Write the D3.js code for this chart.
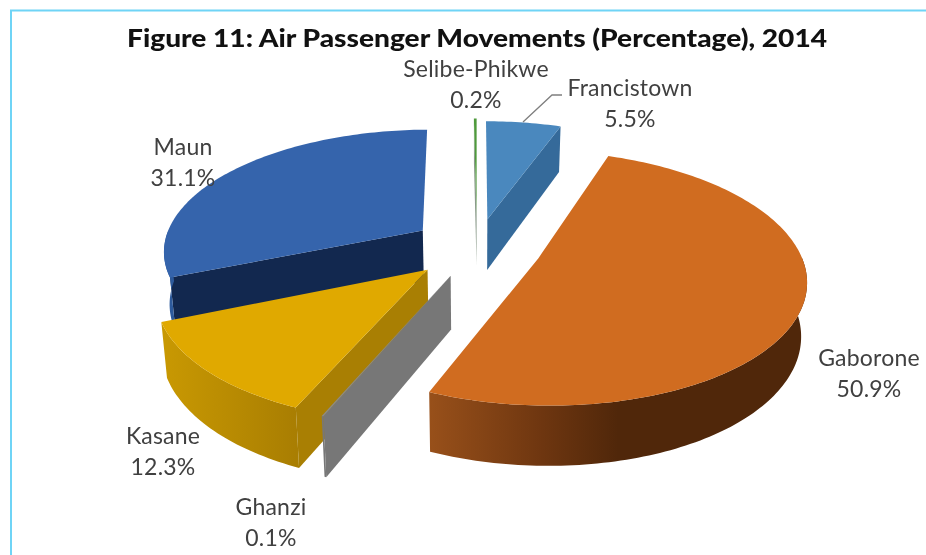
<!DOCTYPE html>
<html>
<head>
<meta charset="utf-8">
<script src="https://cdn.jsdelivr.net/npm/d3@7"></script>
<style>
  html, body { margin: 0; padding: 0; background: #fff; }
  svg { display: block; filter: blur(0.4px); }
  .lbl { font-family: Lato, "Open Sans", sans-serif; font-size: 23px; letter-spacing: 0.2px; fill: #404040; text-anchor: middle; }
  .title { font-family: Lato, sans-serif; font-weight: 900; font-size: 25px; fill: #111; }
</style>
</head>
<body>
<svg id="chart" width="926" height="555"></svg>
<script>
const titleText = "Figure 11: Air Passenger Movements (Percentage), 2014";
const categories = ["Francistown", "Gaborone", "Ghanzi", "Kasane", "Maun", "Selibe-Phikwe"];
const values = [5.5, 50.9, 0.1, 12.3, 31.1, 0.2];
const valueLabels = ["5.5%", "50.9%", "0.1%", "12.3%", "31.1%", "0.2%"];

// drawing setup, per category
const explode = { "Francistown": 0.24, "Gaborone": 0.25, "Ghanzi": 0.25, "Kasane": 0.26, "Maun": 0.255, "Selibe-Phikwe": 0.27 };
const colors = {
  "Francistown": { top: "#4a88be", cut: "#356a9a", wall: ["#35689a", "#35689a"], cuts: ["end"] },
  "Gaborone": { top: "#d06c20", cut: "#8f4c16", wall: ["#98501a", "#50270a"], cuts: [] },
  "Ghanzi": { top: "#8a8a8a", cut: "#777777", wall: ["#777777", "#777777"], cuts: ["start"] },
  "Kasane": { top: "#e0a900", cut: "#a97f03", wall: ["#c99902", "#a97e02"], cuts: ["start"] },
  "Maun": { top: "#3564ac", cut: "#12284f", wall: ["#2d5a9c", "#2d5a9c"], cuts: ["start"] },
  "Selibe-Phikwe": { top: "#4f9a3c", cut: "#8a9a8a", wall: ["#8a9a8a", "#8a9a8a"], cuts: ["start", "end"] }
};
const drawOrder = ["Maun", "Selibe-Phikwe", "Francistown", "Gaborone", "Kasane", "Ghanzi"];
const labelAt = {
  "Francistown": [630, 96], "Gaborone": [869, 366], "Ghanzi": [271, 515],
  "Kasane": [163, 444], "Maun": [183, 155], "Selibe-Phikwe": [476, 77]
};

const svg = d3.select("#chart");

// frame of the page
svg.append("path")
  .attr("d", "M11,555V10.5H926")
  .attr("fill", "none")
  .attr("stroke", "#6fd4f6")
  .attr("stroke-width", 2);

svg.append("text")
  .attr("class", "title")
  .attr("x", 127)
  .attr("y", 47)
  .attr("textLength", 700)
  .attr("lengthAdjust", "spacingAndGlyphs")
  .text(titleText);

// pie is tilted, with perspective: things closer to the viewer get bigger
const x0 = 477, y0 = 247, rx = 260, ry = 121, depth = 52, persp = 6.5;

function project(u, v, z) {
  const s = 1 / (1 - v / persp);
  const squeeze = 1 - 0.018 * z;
  return [x0 + rx * u * s * squeeze, y0 + ry * v * s + depth * z * Math.pow(s, 0.8)];
}

const pie = d3.pie().sort(null).value(d => d.value);
const slices = pie(categories.map((c, i) => ({ name: c, value: values[i], label: valueLabels[i] })));

const defs = svg.append("defs");
const line = d3.line();

function polar(a, r, off) {
  return [Math.sin(a) * r + off[0], -Math.cos(a) * r + off[1]];
}

function drawSlice(d) {
  const name = d.data.name;
  const c = colors[name];
  const mid = (d.startAngle + d.endAngle) / 2;
  const e = explode[name];
  const off = [Math.sin(mid) * e, -Math.cos(mid) * e];

  const n = Math.max(2, Math.ceil((d.endAngle - d.startAngle) / 0.02));
  const angles = d3.range(n + 1).map(i => d.startAngle + (d.endAngle - d.startAngle) * i / n);
  const arcAt = (z, list) => list.map(a => {
    const p = polar(a, 1, off);
    return project(p[0], p[1], z);
  });
  const apexAt = z => project(off[0], off[1], z);

  const g = svg.append("g").attr("class", "slice");

  // only the cut faces that turn toward the viewer
  c.cuts.forEach(side => {
    const a = side === "start" ? d.startAngle : d.endAngle;
    const p = polar(a, 1, off);
    g.append("path")
      .attr("d", line([apexAt(0), project(p[0], p[1], 0), project(p[0], p[1], 1), apexAt(1)]) + "Z")
      .attr("fill", c.cut);
  });

  // outer wall, front half of the circle only
  const front = angles.filter(a => Math.cos(a) < 0.02);
  const top = arcAt(0, angles);
  if (front.length > 1) {
    const wallTop = arcAt(0, front), wallBottom = arcAt(1, front).reverse();
    const xs = d3.extent(wallTop, p => p[0]);
    const gradId = "wall" + categories.indexOf(name);
    const grad = defs.append("linearGradient")
      .attr("id", gradId)
      .attr("gradientUnits", "userSpaceOnUse")
      .attr("x1", xs[0]).attr("x2", xs[1]).attr("y1", 0).attr("y2", 0);
    const stops = name === "Gaborone" ? [[0, c.wall[0]], [0.3, "#6e3610"], [0.5, c.wall[1]], [1, c.wall[1]]]
      : [[0, c.wall[0]], [1, c.wall[1]]];
    stops.forEach(s => grad.append("stop").attr("offset", s[0]).attr("stop-color", s[1]));
    g.append("path")
      .attr("d", line(wallTop.concat(wallBottom)) + "Z")
      .attr("fill", `url(#${gradId})`);
  }

  // top face
  g.append("path")
    .attr("d", line([apexAt(0)].concat(top)) + "Z")
    .attr("fill", c.top);
}

drawOrder.forEach(name => drawSlice(slices.find(d => d.data.name === name)));

// leader line for Francistown
svg.append("path")
  .attr("d", "M523,122L552,95H562")
  .attr("fill", "none")
  .attr("stroke", "#7f7f7f")
  .attr("stroke-width", 1.3);

// labels
slices.forEach(d => {
  const pos = labelAt[d.data.name];
  const t = svg.append("text").attr("class", "lbl").attr("x", pos[0]).attr("y", pos[1]);
  t.append("tspan").attr("x", pos[0]).text(d.data.name);
  t.append("tspan").attr("x", pos[0]).attr("dy", 31).text(d.data.label);
});
</script>
</body>
</html>
